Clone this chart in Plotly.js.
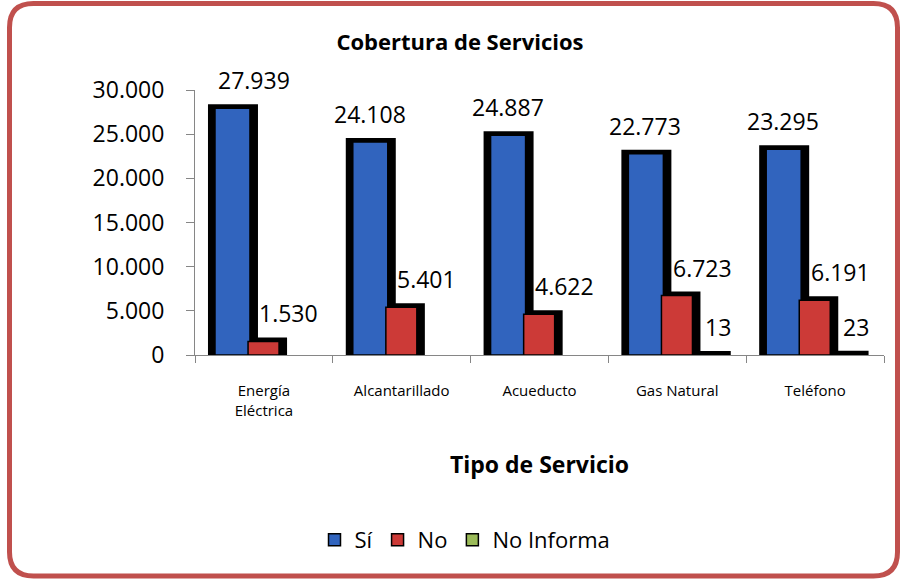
<!DOCTYPE html>
<html>
<head>
<meta charset="utf-8">
<script src="https://cdn.plot.ly/plotly-3.0.1.min.js"></script>
<style>html,body{margin:0;padding:0;background:#fff;}#chart{width:902px;height:579px;}</style>
</head>
<body>
<div id="chart"></div>
<script>
// ---- data ----
const categories = ['Energía<br>Eléctrica', 'Alcantarillado', 'Acueducto', 'Gas Natural', 'Teléfono'];
const seriesNames = ['Sí', 'No', 'No Informa'];
const siValues = [27939, 24108, 24887, 22773, 23295];
const noValues = [1530, 5401, 4622, 6723, 6191];
const noInformaValues = [null, null, null, 13, 23];
const yTickValues = [0, 5000, 10000, 15000, 20000, 25000, 30000];

// ---- style ----
const FONT = 'Open Sans, Noto Sans, sans-serif';
const colors = ['#3164BE', '#CC3A37', '#9BBB59'];
const M = {l: 195, r: 18, t: 90, b: 224};
const W = 902, H = 579;
const plotW = W - M.l - M.r, plotH = H - M.t - M.b;
const catPx = plotW / categories.length;
const bodyOffset = [-0.355, -0.115, 0.13];
const bodyWidth = [0.254, 0.225, 0.2];
const shLeft = 7 / catPx, shRight = 8 / catPx;
const pxPerUnit = plotH / 30000;
const shTop = 4 / pxPerUnit, shBottom = 4 / pxPerUnit;
const labelDx = [-32, 25, 41];
const labelDy = 28;
const labelDxOverride = {'0-0': -10};

const allSeries = [siValues, noValues, noInformaValues];
const fmt = v => String(v).replace(/\B(?=(\d{3})+(?!\d))/g, '.');

const traces = [];
// shadows first
allSeries.forEach((vals, i) => {
  traces.push({
    type: 'bar', x: categories,
    y: vals.map(v => v == null ? null : v + shTop + shBottom),
    base: vals.map(v => v == null ? null : -shBottom),
    offset: bodyOffset[i] - shLeft, width: bodyWidth[i] + shLeft + shRight,
    marker: {color: '#000000', line: {width: 0}},
    showlegend: false, hoverinfo: 'skip', cliponaxis: false
  });
});
allSeries.forEach((vals, i) => {
  traces.push({
    type: 'bar', name: seriesNames[i], x: categories, y: vals,
    offset: bodyOffset[i], width: bodyWidth[i],
    marker: {color: colors[i], line: {color: '#000000', width: 1.5}},
    cliponaxis: false
  });
});

const annotations = [];
allSeries.forEach((vals, i) => {
  vals.forEach((v, j) => {
    if (v == null) return;
    const key = i + '-' + j;
    const dx = (labelDxOverride[key] !== undefined) ? labelDxOverride[key] : labelDx[i];
    annotations.push({
      x: categories[j], y: v, xref: 'x', yref: 'y',
      xshift: dx, yshift: labelDy,
      text: fmt(v), showarrow: false, xanchor: 'center', yanchor: 'middle',
      font: {family: FONT, size: 23, color: '#000000'}
    });
  });
});

// rounded red frame (paper coords)
const px2x = px => (px - M.l) / plotW;
const py2y = py => (M.t + plotH - py) / plotH;
const fr = {L: 9.5, T: 3.5, R: 897.5, B: 576, r: 24};
const P = (x, y) => px2x(x).toFixed(5) + ',' + py2y(y).toFixed(5);
const framePath = 'M' + P(fr.L + fr.r, fr.T) +
  ' L' + P(fr.R - fr.r, fr.T) + ' Q' + P(fr.R, fr.T) + ' ' + P(fr.R, fr.T + fr.r) +
  ' L' + P(fr.R, fr.B - fr.r) + ' Q' + P(fr.R, fr.B) + ' ' + P(fr.R - fr.r, fr.B) +
  ' L' + P(fr.L + fr.r, fr.B) + ' Q' + P(fr.L, fr.B) + ' ' + P(fr.L, fr.B - fr.r) +
  ' L' + P(fr.L, fr.T + fr.r) + ' Q' + P(fr.L, fr.T) + ' ' + P(fr.L + fr.r, fr.T) + ' Z';

const layout = {
  width: W, height: H,
  margin: {l: M.l, r: M.r, t: M.t, b: M.b, pad: 0},
  paper_bgcolor: '#ffffff', plot_bgcolor: '#ffffff',
  separators: ',.',
  barmode: 'overlay',
  font: {family: FONT, color: '#000000'},
  title: {
    text: '<b>Cobertura de Servicios</b>',
    font: {family: FONT, size: 22, color: '#000000'},
    x: 460 / W, xanchor: 'center', xref: 'container',
    y: 1 - 42 / H, yanchor: 'middle', yref: 'container'
  },
  xaxis: {
    type: 'category',
    showline: true, linecolor: '#868686', linewidth: 1,
    ticks: 'outside', tickson: 'boundaries', ticklen: 7, tickcolor: '#868686',
    tickfont: {family: FONT, size: 15, color: '#000000'},
    ticklabelstandoff: 22,
    showgrid: false, zeroline: false,
    title: {text: '<b>Tipo de Servicio</b>', font: {family: FONT, size: 23, color: '#000000'}, standoff: 38}
  },
  yaxis: {
    range: [0, 30000], tickvals: yTickValues, tickformat: ',d',
    showline: true, linecolor: '#868686', linewidth: 1,
    ticks: 'outside', ticklen: 8, tickcolor: '#868686',
    tickfont: {family: FONT, size: 23, color: '#000000'},
    ticklabelstandoff: 17,
    showgrid: false, zeroline: false
  },
  legend: {
    orientation: 'h', x: (465 - M.l) / plotW, xanchor: 'center',
    y: py2y(540), yanchor: 'middle',
    font: {family: FONT, size: 22, color: '#000000'},
    traceorder: 'normal'
  },
  annotations: annotations,
  shapes: [{type: 'path', xref: 'paper', yref: 'paper', path: framePath,
            line: {color: '#C0504D', width: 5}, fillcolor: 'rgba(0,0,0,0)', layer: 'above'}]
};

Plotly.newPlot('chart', traces, layout, {displayModeBar: false, staticPlot: true});
</script>
</body>
</html>
